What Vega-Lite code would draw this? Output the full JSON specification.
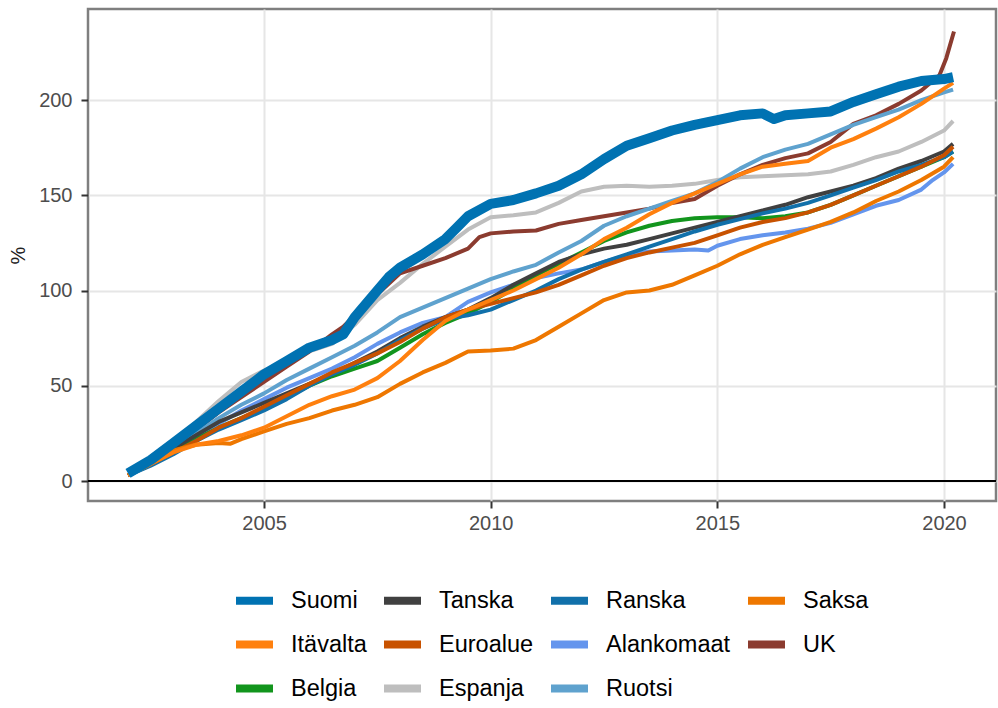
{
"$schema":"https://vega.github.io/schema/vega-lite/v6.json",
"width":908,"height":492,
"autosize":{"type":"none"},
"padding":{"left":88,"top":9,"right":2,"bottom":207},
"background":"white",
"config":{
 "font":"Liberation Sans",
 "view":{"stroke":"#7f7f7f","strokeWidth":2.5},
 "axis":{"grid":true,"gridColor":"#e6e6e6","gridWidth":2,"domain":false,"tickColor":"#333333","tickWidth":2,"tickSize":7,"labelFontSize":20,"labelColor":"#4d4d4d","labelFont":"Liberation Sans","titleFont":"Liberation Sans","titleFontSize":20,"titleFontWeight":"normal","titleColor":"#222222"},
 "legend":{"orient":"none","legendX":144,"legendY":569,"direction":"horizontal","columns":4,"symbolType":"stroke","symbolStrokeWidth":8,"symbolSize":1369,"labelFontSize":23.5,"labelFont":"Liberation Sans","labelColor":"#000000","labelOffset":14,"columnPadding":1,"rowPadding":5,"padding":0,"labelLimit":300}
},
"datasets":{"d":[
{"s":"Suomi","t":2002,"v":4},{"s":"Suomi","t":2002.5,"v":11},{"s":"Suomi","t":2003,"v":20},{"s":"Suomi","t":2003.5,"v":29},{"s":"Suomi","t":2004,"v":38},{"s":"Suomi","t":2004.5,"v":47},{"s":"Suomi","t":2005,"v":56},{"s":"Suomi","t":2005.5,"v":63},{"s":"Suomi","t":2006,"v":70},{"s":"Suomi","t":2006.5,"v":74},{"s":"Suomi","t":2006.75,"v":77},{"s":"Suomi","t":2007,"v":86},{"s":"Suomi","t":2007.5,"v":100},{"s":"Suomi","t":2007.75,"v":107},{"s":"Suomi","t":2008,"v":112},{"s":"Suomi","t":2008.5,"v":119},{"s":"Suomi","t":2009,"v":127},{"s":"Suomi","t":2009.25,"v":133},{"s":"Suomi","t":2009.5,"v":139},{"s":"Suomi","t":2010,"v":145.5},{"s":"Suomi","t":2010.5,"v":147.5},{"s":"Suomi","t":2011,"v":151},{"s":"Suomi","t":2011.5,"v":155},{"s":"Suomi","t":2012,"v":161},{"s":"Suomi","t":2012.5,"v":169},{"s":"Suomi","t":2013,"v":176},{"s":"Suomi","t":2013.5,"v":180},{"s":"Suomi","t":2014,"v":184},{"s":"Suomi","t":2014.5,"v":187},{"s":"Suomi","t":2015,"v":189.5},{"s":"Suomi","t":2015.5,"v":192},{"s":"Suomi","t":2016,"v":193},{"s":"Suomi","t":2016.25,"v":190},{"s":"Suomi","t":2016.5,"v":192},{"s":"Suomi","t":2017,"v":193},{"s":"Suomi","t":2017.5,"v":194},{"s":"Suomi","t":2018,"v":199},{"s":"Suomi","t":2018.5,"v":203},{"s":"Suomi","t":2019,"v":207},{"s":"Suomi","t":2019.5,"v":210},{"s":"Suomi","t":2020,"v":211},{"s":"Suomi","t":2020.2,"v":212},
{"s":"Espanja","t":2002,"v":3},{"s":"Espanja","t":2002.5,"v":10},{"s":"Espanja","t":2003,"v":20},{"s":"Espanja","t":2003.5,"v":31},{"s":"Espanja","t":2004,"v":42},{"s":"Espanja","t":2004.5,"v":52},{"s":"Espanja","t":2005,"v":58},{"s":"Espanja","t":2005.5,"v":63},{"s":"Espanja","t":2006,"v":68},{"s":"Espanja","t":2006.5,"v":72},{"s":"Espanja","t":2007,"v":82},{"s":"Espanja","t":2007.5,"v":95},{"s":"Espanja","t":2008,"v":104},{"s":"Espanja","t":2008.5,"v":114},{"s":"Espanja","t":2009,"v":123},{"s":"Espanja","t":2009.5,"v":132},{"s":"Espanja","t":2010,"v":138.5},{"s":"Espanja","t":2010.5,"v":139.5},{"s":"Espanja","t":2011,"v":141},{"s":"Espanja","t":2011.5,"v":146},{"s":"Espanja","t":2012,"v":152},{"s":"Espanja","t":2012.5,"v":154.5},{"s":"Espanja","t":2013,"v":155},{"s":"Espanja","t":2013.5,"v":154.5},{"s":"Espanja","t":2014,"v":155},{"s":"Espanja","t":2014.5,"v":156},{"s":"Espanja","t":2015,"v":158},{"s":"Espanja","t":2015.5,"v":159.5},{"s":"Espanja","t":2016,"v":160},{"s":"Espanja","t":2016.5,"v":160.5},{"s":"Espanja","t":2017,"v":161},{"s":"Espanja","t":2017.5,"v":162.5},{"s":"Espanja","t":2018,"v":166},{"s":"Espanja","t":2018.5,"v":170},{"s":"Espanja","t":2019,"v":173},{"s":"Espanja","t":2019.5,"v":178},{"s":"Espanja","t":2020,"v":184},{"s":"Espanja","t":2020.2,"v":189},
{"s":"UK","t":2002,"v":3},{"s":"UK","t":2002.5,"v":10},{"s":"UK","t":2003,"v":18},{"s":"UK","t":2003.5,"v":27},{"s":"UK","t":2004,"v":36},{"s":"UK","t":2004.5,"v":44},{"s":"UK","t":2005,"v":52},{"s":"UK","t":2005.5,"v":60},{"s":"UK","t":2006,"v":68},{"s":"UK","t":2006.5,"v":77},{"s":"UK","t":2006.75,"v":81},{"s":"UK","t":2007,"v":87},{"s":"UK","t":2007.5,"v":98},{"s":"UK","t":2008,"v":109},{"s":"UK","t":2008.5,"v":113},{"s":"UK","t":2009,"v":117},{"s":"UK","t":2009.5,"v":122},{"s":"UK","t":2009.75,"v":128},{"s":"UK","t":2010,"v":130},{"s":"UK","t":2010.5,"v":131},{"s":"UK","t":2011,"v":131.5},{"s":"UK","t":2011.5,"v":135},{"s":"UK","t":2012,"v":137},{"s":"UK","t":2012.5,"v":139},{"s":"UK","t":2013,"v":141},{"s":"UK","t":2013.5,"v":143},{"s":"UK","t":2014,"v":146},{"s":"UK","t":2014.5,"v":148},{"s":"UK","t":2015,"v":155},{"s":"UK","t":2015.5,"v":161},{"s":"UK","t":2016,"v":166},{"s":"UK","t":2016.5,"v":169.5},{"s":"UK","t":2017,"v":172},{"s":"UK","t":2017.5,"v":178},{"s":"UK","t":2018,"v":187.5},{"s":"UK","t":2018.5,"v":192},{"s":"UK","t":2019,"v":198},{"s":"UK","t":2019.5,"v":205},{"s":"UK","t":2019.9,"v":213},{"s":"UK","t":2020.05,"v":222},{"s":"UK","t":2020.22,"v":236},
{"s":"Ruotsi","t":2002,"v":3},{"s":"Ruotsi","t":2002.5,"v":9},{"s":"Ruotsi","t":2003,"v":17},{"s":"Ruotsi","t":2003.5,"v":25},{"s":"Ruotsi","t":2004,"v":33},{"s":"Ruotsi","t":2004.5,"v":40},{"s":"Ruotsi","t":2005,"v":46},{"s":"Ruotsi","t":2005.5,"v":53},{"s":"Ruotsi","t":2006,"v":59},{"s":"Ruotsi","t":2006.5,"v":65},{"s":"Ruotsi","t":2007,"v":71},{"s":"Ruotsi","t":2007.5,"v":78},{"s":"Ruotsi","t":2008,"v":86},{"s":"Ruotsi","t":2008.5,"v":91},{"s":"Ruotsi","t":2009,"v":96},{"s":"Ruotsi","t":2009.5,"v":101},{"s":"Ruotsi","t":2010,"v":106},{"s":"Ruotsi","t":2010.5,"v":110},{"s":"Ruotsi","t":2011,"v":113.5},{"s":"Ruotsi","t":2011.5,"v":120},{"s":"Ruotsi","t":2012,"v":126},{"s":"Ruotsi","t":2012.5,"v":134},{"s":"Ruotsi","t":2013,"v":139},{"s":"Ruotsi","t":2013.5,"v":143},{"s":"Ruotsi","t":2014,"v":147},{"s":"Ruotsi","t":2014.5,"v":151},{"s":"Ruotsi","t":2015,"v":157},{"s":"Ruotsi","t":2015.5,"v":164},{"s":"Ruotsi","t":2016,"v":170},{"s":"Ruotsi","t":2016.5,"v":174},{"s":"Ruotsi","t":2017,"v":177},{"s":"Ruotsi","t":2017.5,"v":182},{"s":"Ruotsi","t":2018,"v":187},{"s":"Ruotsi","t":2018.5,"v":191},{"s":"Ruotsi","t":2019,"v":195},{"s":"Ruotsi","t":2019.5,"v":200},{"s":"Ruotsi","t":2020,"v":204},{"s":"Ruotsi","t":2020.2,"v":205.5},
{"s":"Alankomaat","t":2002,"v":3},{"s":"Alankomaat","t":2002.5,"v":9},{"s":"Alankomaat","t":2003,"v":16},{"s":"Alankomaat","t":2003.5,"v":23},{"s":"Alankomaat","t":2004,"v":30},{"s":"Alankomaat","t":2004.5,"v":37},{"s":"Alankomaat","t":2005,"v":43},{"s":"Alankomaat","t":2005.5,"v":49},{"s":"Alankomaat","t":2006,"v":54},{"s":"Alankomaat","t":2006.5,"v":59},{"s":"Alankomaat","t":2007,"v":65},{"s":"Alankomaat","t":2007.5,"v":72},{"s":"Alankomaat","t":2008,"v":78},{"s":"Alankomaat","t":2008.5,"v":83},{"s":"Alankomaat","t":2009,"v":86},{"s":"Alankomaat","t":2009.5,"v":94},{"s":"Alankomaat","t":2010,"v":99},{"s":"Alankomaat","t":2010.5,"v":103},{"s":"Alankomaat","t":2011,"v":106.5},{"s":"Alankomaat","t":2011.5,"v":109},{"s":"Alankomaat","t":2012,"v":111},{"s":"Alankomaat","t":2012.5,"v":115},{"s":"Alankomaat","t":2013,"v":118.5},{"s":"Alankomaat","t":2013.5,"v":120.5},{"s":"Alankomaat","t":2014,"v":121},{"s":"Alankomaat","t":2014.5,"v":121.5},{"s":"Alankomaat","t":2014.8,"v":121},{"s":"Alankomaat","t":2015,"v":123.5},{"s":"Alankomaat","t":2015.5,"v":127},{"s":"Alankomaat","t":2016,"v":129},{"s":"Alankomaat","t":2016.5,"v":130.5},{"s":"Alankomaat","t":2017,"v":132.5},{"s":"Alankomaat","t":2017.5,"v":135.5},{"s":"Alankomaat","t":2018,"v":140},{"s":"Alankomaat","t":2018.5,"v":144.5},{"s":"Alankomaat","t":2019,"v":147.5},{"s":"Alankomaat","t":2019.5,"v":153},{"s":"Alankomaat","t":2019.75,"v":158},{"s":"Alankomaat","t":2020,"v":162},{"s":"Alankomaat","t":2020.2,"v":166.5},
{"s":"Belgia","t":2002,"v":3},{"s":"Belgia","t":2002.5,"v":9},{"s":"Belgia","t":2003,"v":16},{"s":"Belgia","t":2003.5,"v":22},{"s":"Belgia","t":2004,"v":28},{"s":"Belgia","t":2004.5,"v":33},{"s":"Belgia","t":2005,"v":38},{"s":"Belgia","t":2005.5,"v":44},{"s":"Belgia","t":2006,"v":50},{"s":"Belgia","t":2006.5,"v":55},{"s":"Belgia","t":2007,"v":59},{"s":"Belgia","t":2007.5,"v":63},{"s":"Belgia","t":2008,"v":70},{"s":"Belgia","t":2008.5,"v":77},{"s":"Belgia","t":2009,"v":83},{"s":"Belgia","t":2009.5,"v":88},{"s":"Belgia","t":2010,"v":94},{"s":"Belgia","t":2010.5,"v":101},{"s":"Belgia","t":2011,"v":108},{"s":"Belgia","t":2011.5,"v":114},{"s":"Belgia","t":2012,"v":120},{"s":"Belgia","t":2012.5,"v":126},{"s":"Belgia","t":2013,"v":130.5},{"s":"Belgia","t":2013.5,"v":134},{"s":"Belgia","t":2014,"v":136.5},{"s":"Belgia","t":2014.5,"v":138},{"s":"Belgia","t":2015,"v":138.5},{"s":"Belgia","t":2015.5,"v":138.5},{"s":"Belgia","t":2016,"v":138},{"s":"Belgia","t":2016.5,"v":139},{"s":"Belgia","t":2017,"v":141},{"s":"Belgia","t":2017.5,"v":145},{"s":"Belgia","t":2018,"v":150},{"s":"Belgia","t":2018.5,"v":155},{"s":"Belgia","t":2019,"v":160},{"s":"Belgia","t":2019.5,"v":165},{"s":"Belgia","t":2020,"v":170},{"s":"Belgia","t":2020.2,"v":173},
{"s":"Tanska","t":2002,"v":3},{"s":"Tanska","t":2002.5,"v":9},{"s":"Tanska","t":2003,"v":17},{"s":"Tanska","t":2003.5,"v":24},{"s":"Tanska","t":2004,"v":31},{"s":"Tanska","t":2004.5,"v":36},{"s":"Tanska","t":2005,"v":41},{"s":"Tanska","t":2005.5,"v":46},{"s":"Tanska","t":2006,"v":51},{"s":"Tanska","t":2006.5,"v":56},{"s":"Tanska","t":2007,"v":62},{"s":"Tanska","t":2007.5,"v":68},{"s":"Tanska","t":2008,"v":75},{"s":"Tanska","t":2008.5,"v":81},{"s":"Tanska","t":2009,"v":86},{"s":"Tanska","t":2009.5,"v":90},{"s":"Tanska","t":2010,"v":96},{"s":"Tanska","t":2010.5,"v":103},{"s":"Tanska","t":2011,"v":109},{"s":"Tanska","t":2011.5,"v":115},{"s":"Tanska","t":2012,"v":119},{"s":"Tanska","t":2012.5,"v":122},{"s":"Tanska","t":2013,"v":124},{"s":"Tanska","t":2013.5,"v":127},{"s":"Tanska","t":2014,"v":130},{"s":"Tanska","t":2014.5,"v":133},{"s":"Tanska","t":2015,"v":136},{"s":"Tanska","t":2015.5,"v":139},{"s":"Tanska","t":2016,"v":142},{"s":"Tanska","t":2016.5,"v":145},{"s":"Tanska","t":2017,"v":149},{"s":"Tanska","t":2017.5,"v":152},{"s":"Tanska","t":2018,"v":155},{"s":"Tanska","t":2018.5,"v":159},{"s":"Tanska","t":2019,"v":164},{"s":"Tanska","t":2019.5,"v":168},{"s":"Tanska","t":2020,"v":173},{"s":"Tanska","t":2020.2,"v":177},
{"s":"Ranska","t":2002,"v":3},{"s":"Ranska","t":2002.5,"v":8},{"s":"Ranska","t":2003,"v":14},{"s":"Ranska","t":2003.5,"v":21},{"s":"Ranska","t":2004,"v":27},{"s":"Ranska","t":2004.5,"v":32},{"s":"Ranska","t":2005,"v":37},{"s":"Ranska","t":2005.5,"v":43},{"s":"Ranska","t":2006,"v":50},{"s":"Ranska","t":2006.5,"v":56},{"s":"Ranska","t":2007,"v":61},{"s":"Ranska","t":2007.5,"v":67},{"s":"Ranska","t":2008,"v":74},{"s":"Ranska","t":2008.5,"v":80},{"s":"Ranska","t":2009,"v":85},{"s":"Ranska","t":2009.5,"v":87},{"s":"Ranska","t":2010,"v":90},{"s":"Ranska","t":2010.5,"v":95},{"s":"Ranska","t":2011,"v":100},{"s":"Ranska","t":2011.5,"v":106},{"s":"Ranska","t":2012,"v":111},{"s":"Ranska","t":2012.5,"v":115},{"s":"Ranska","t":2013,"v":119},{"s":"Ranska","t":2013.5,"v":123},{"s":"Ranska","t":2014,"v":127},{"s":"Ranska","t":2014.5,"v":131},{"s":"Ranska","t":2015,"v":134.5},{"s":"Ranska","t":2015.5,"v":137.5},{"s":"Ranska","t":2016,"v":140.5},{"s":"Ranska","t":2016.5,"v":143},{"s":"Ranska","t":2017,"v":146},{"s":"Ranska","t":2017.5,"v":150},{"s":"Ranska","t":2018,"v":154},{"s":"Ranska","t":2018.5,"v":158},{"s":"Ranska","t":2019,"v":162.5},{"s":"Ranska","t":2019.5,"v":166},{"s":"Ranska","t":2020,"v":170},{"s":"Ranska","t":2020.2,"v":173},
{"s":"Euroalue","t":2002,"v":3},{"s":"Euroalue","t":2002.5,"v":9},{"s":"Euroalue","t":2003,"v":15},{"s":"Euroalue","t":2003.5,"v":21},{"s":"Euroalue","t":2004,"v":28},{"s":"Euroalue","t":2004.5,"v":33},{"s":"Euroalue","t":2005,"v":39},{"s":"Euroalue","t":2005.5,"v":45},{"s":"Euroalue","t":2006,"v":51},{"s":"Euroalue","t":2006.5,"v":57},{"s":"Euroalue","t":2007,"v":62},{"s":"Euroalue","t":2007.5,"v":67},{"s":"Euroalue","t":2008,"v":73},{"s":"Euroalue","t":2008.5,"v":80},{"s":"Euroalue","t":2009,"v":86},{"s":"Euroalue","t":2009.5,"v":90},{"s":"Euroalue","t":2010,"v":93},{"s":"Euroalue","t":2010.5,"v":96},{"s":"Euroalue","t":2011,"v":99},{"s":"Euroalue","t":2011.5,"v":103},{"s":"Euroalue","t":2012,"v":108},{"s":"Euroalue","t":2012.5,"v":113},{"s":"Euroalue","t":2013,"v":117},{"s":"Euroalue","t":2013.5,"v":120},{"s":"Euroalue","t":2014,"v":122.5},{"s":"Euroalue","t":2014.5,"v":125},{"s":"Euroalue","t":2015,"v":129},{"s":"Euroalue","t":2015.5,"v":133},{"s":"Euroalue","t":2016,"v":136},{"s":"Euroalue","t":2016.5,"v":138},{"s":"Euroalue","t":2017,"v":141},{"s":"Euroalue","t":2017.5,"v":145},{"s":"Euroalue","t":2018,"v":150},{"s":"Euroalue","t":2018.5,"v":155},{"s":"Euroalue","t":2019,"v":160},{"s":"Euroalue","t":2019.5,"v":165},{"s":"Euroalue","t":2020,"v":171},{"s":"Euroalue","t":2020.2,"v":175.5},
{"s":"Saksa","t":2002,"v":3},{"s":"Saksa","t":2002.5,"v":9},{"s":"Saksa","t":2003,"v":16},{"s":"Saksa","t":2003.5,"v":19},{"s":"Saksa","t":2004,"v":20},{"s":"Saksa","t":2004.25,"v":19.5},{"s":"Saksa","t":2004.5,"v":22},{"s":"Saksa","t":2005,"v":26},{"s":"Saksa","t":2005.5,"v":30},{"s":"Saksa","t":2006,"v":33},{"s":"Saksa","t":2006.5,"v":37},{"s":"Saksa","t":2007,"v":40},{"s":"Saksa","t":2007.5,"v":44},{"s":"Saksa","t":2008,"v":51},{"s":"Saksa","t":2008.5,"v":57},{"s":"Saksa","t":2009,"v":62},{"s":"Saksa","t":2009.5,"v":68},{"s":"Saksa","t":2010,"v":68.5},{"s":"Saksa","t":2010.5,"v":69.5},{"s":"Saksa","t":2011,"v":74},{"s":"Saksa","t":2011.5,"v":81},{"s":"Saksa","t":2012,"v":88},{"s":"Saksa","t":2012.5,"v":95},{"s":"Saksa","t":2013,"v":99},{"s":"Saksa","t":2013.5,"v":100},{"s":"Saksa","t":2014,"v":103},{"s":"Saksa","t":2014.5,"v":108},{"s":"Saksa","t":2015,"v":113},{"s":"Saksa","t":2015.5,"v":119},{"s":"Saksa","t":2016,"v":124},{"s":"Saksa","t":2016.5,"v":128},{"s":"Saksa","t":2017,"v":132},{"s":"Saksa","t":2017.5,"v":136},{"s":"Saksa","t":2018,"v":141},{"s":"Saksa","t":2018.5,"v":147},{"s":"Saksa","t":2019,"v":152},{"s":"Saksa","t":2019.5,"v":158},{"s":"Saksa","t":2020,"v":165},{"s":"Saksa","t":2020.2,"v":170},
{"s":"Itävalta","t":2002,"v":3},{"s":"Itävalta","t":2002.5,"v":9},{"s":"Itävalta","t":2003,"v":15},{"s":"Itävalta","t":2003.5,"v":19},{"s":"Itävalta","t":2004,"v":21},{"s":"Itävalta","t":2004.5,"v":24},{"s":"Itävalta","t":2005,"v":28},{"s":"Itävalta","t":2005.5,"v":34},{"s":"Itävalta","t":2006,"v":40},{"s":"Itävalta","t":2006.5,"v":44.5},{"s":"Itävalta","t":2007,"v":48},{"s":"Itävalta","t":2007.5,"v":54},{"s":"Itävalta","t":2008,"v":63},{"s":"Itävalta","t":2008.5,"v":74},{"s":"Itävalta","t":2009,"v":84},{"s":"Itävalta","t":2009.5,"v":90},{"s":"Itävalta","t":2010,"v":95},{"s":"Itävalta","t":2010.5,"v":100},{"s":"Itävalta","t":2011,"v":106},{"s":"Itävalta","t":2011.5,"v":112},{"s":"Itävalta","t":2012,"v":119},{"s":"Itävalta","t":2012.5,"v":127},{"s":"Itävalta","t":2013,"v":133},{"s":"Itävalta","t":2013.5,"v":140},{"s":"Itävalta","t":2014,"v":146},{"s":"Itävalta","t":2014.5,"v":151},{"s":"Itävalta","t":2015,"v":156},{"s":"Itävalta","t":2015.5,"v":161},{"s":"Itävalta","t":2016,"v":165},{"s":"Itävalta","t":2016.5,"v":166.5},{"s":"Itävalta","t":2017,"v":168},{"s":"Itävalta","t":2017.5,"v":175},{"s":"Itävalta","t":2018,"v":179.5},{"s":"Itävalta","t":2018.5,"v":185},{"s":"Itävalta","t":2019,"v":191},{"s":"Itävalta","t":2019.5,"v":198},{"s":"Itävalta","t":2020,"v":206},{"s":"Itävalta","t":2020.2,"v":209}
]},
"data":{"name":"d"},
"encoding":{
 "x":{"field":"t","type":"quantitative","scale":{"domain":[2001.117,2021.147],"nice":false,"zero":false},"axis":{"values":[2005,2010,2015,2020],"format":"d","title":null,"labelPadding":5}},
 "y":{"field":"v","type":"quantitative","scale":{"domain":[-10.5,247.8],"nice":false,"zero":false},"axis":{"values":[0,50,100,150,200],"title":"%","titlePadding":10,"labelPadding":9}},
 "color":{"field":"s","type":"nominal","scale":{"domain":["Suomi","Tanska","Ranska","Saksa","Itävalta","Euroalue","Alankomaat","UK","Belgia","Espanja","Ruotsi"],"range":["#0072B2","#404040","#1170AA","#EE7700","#FF800E","#C85200","#6495ED","#8B3B2F","#12951D","#BEBEBE","#5FA2CE"]},"legend":{"title":null}}
},
"layer":[
 {"mark":{"type":"rule","color":"#000000","strokeWidth":2},"encoding":{"y":{"datum":0},"x":null,"color":null}},
 {"transform":[{"filter":"datum.s !== 'Suomi'"}],"mark":{"type":"line","strokeWidth":4,"strokeJoin":"round"}},
 {"transform":[{"filter":"datum.s === 'Suomi'"}],"mark":{"type":"line","strokeWidth":10,"strokeJoin":"round"}}
]
}
